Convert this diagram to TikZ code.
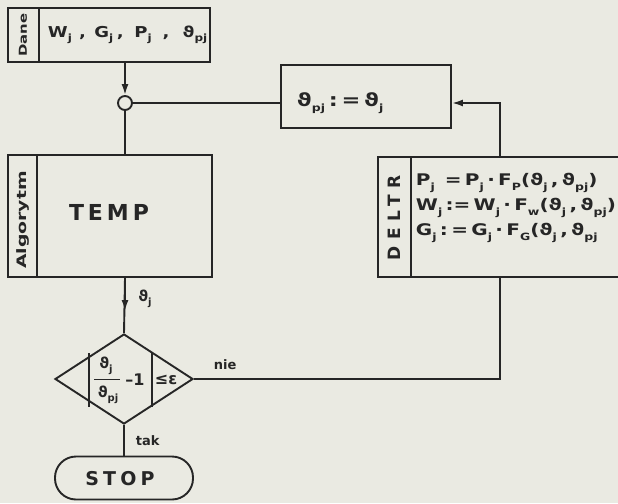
\documentclass[tikz,border=0pt]{standalone}
\usepackage{fontspec}
\setmainfont{DejaVu Sans}
\usetikzlibrary{arrows.meta,shapes.geometric,calc}
\definecolor{paper}{RGB}{234,234,226}
\definecolor{ink}{RGB}{38,38,38}
\newcommand\lsub[1]{\raisebox{-0.55ex}{\fontsize{10}{10}\selectfont #1}}
\newcommand\fs[1]{\fontsize{#1}{#1}\selectfont}
\begin{document}
\begin{tikzpicture}[x=1pt,y=-1pt,line width=1.9pt,
  box/.style={draw=ink,rectangle,inner sep=0pt},
  txt/.style={inner sep=0pt,text=ink},
  arr/.style={-{Latex[length=11pt,width=7pt]}}]
\fill[paper] (0,0) rectangle (618,503);
\useasboundingbox (0,0) rectangle (618,503);
\clip (0,0) rectangle (618,503);
\begin{scope}[draw=ink]
% Dane
\node[box,minimum width=202pt,minimum height=54pt] (dane) at (109,35) {};
\draw ($(dane.north west)+(32,0)$) -- ($(dane.south west)+(32,0)$);
\node[txt,rotate=90,font=\fs{11}\bfseries] (danel) at (23,35) {\scalebox{1.35}[1]{Dane}};
\node[txt,font=\fs{15}\bfseries,anchor=west] (danet) at (47,35) {\scalebox{1.2}[1]{W\lsub{j}\hspace{6pt},\hspace{7pt}G\lsub{j}\hspace{3pt},\hspace{9pt}P\lsub{j}\hspace{9pt},\hspace{11pt}ϑ\lsub{pj}}};
% connector
\node[draw=ink,circle,minimum size=14pt,inner sep=0pt] (conn) at (125,103) {};
\draw[arr] (dane.south -| conn) -- (conn.north);
% Algorytm
\node[box,minimum width=204pt,minimum height=122pt] (alg) at (110,216) {};
\draw ($(alg.north west)+(30,0)$) -- ($(alg.south west)+(30,0)$);
\node[txt,rotate=90,font=\fs{13}\bfseries] (algl) at (23,220) {\scalebox{1.45}[1]{Algorytm}};
\node[txt,font=\fs{22}\bfseries] (temp) at (109,212) {\addfontfeature{LetterSpace=18}TEMP};
\draw (conn.south) -- (conn |- alg.north);
% decision
\node[draw=ink,diamond,aspect=1.53,minimum width=138pt,minimum height=90pt,inner sep=0pt] (dec) at (124,379) {};
\coordinate (mid) at (125,311);
\draw (alg.south -| conn) -- (dec.north);
\draw[arr] (alg.south -| conn) -- (mid);
\node[txt,font=\fs{15}\bfseries] (thj) at (145,299) {ϑ\lsub{j}};
% decision text
\coordinate (lb) at (89,353);
\coordinate (rb) at (152,353);
\draw[line width=1.8pt] (lb) -- (lb |- 0,407);
\draw[line width=1.8pt] (rb) -- (rb |- 0,407);
\node[txt,font=\fs{15}\bfseries] (num) at (106,366) {ϑ\lsub{j}};
\node[txt,font=\fs{15}\bfseries] (den) at (108,395) {ϑ\lsub{pj}};
\draw[line width=1pt] ($(lb)+(5,26)$) -- ($(lb)+(31,26)$);
\node[txt,font=\fs{16}\bfseries] (m1) at (135,380) {\textendash1};
\node[txt,font=\fs{16}\bfseries,anchor=west] (le) at (154,380) {≤ε};
% stop
\node[draw=ink,rounded corners=21pt,minimum width=138pt,minimum height=43pt,inner sep=0pt] (stop) at (124,478) {};
\node[txt,font=\fs{19}\bfseries] (stopt) at (120,479) {\addfontfeature{LetterSpace=22}STOP};
\draw (dec.south) -- (stop.north);
\node[txt,font=\fs{13}\bfseries,anchor=west] (tak) at (135,441) {tak};
\node[txt,font=\fs{13}\bfseries,anchor=west] (nie) at (213,365) {nie};
% assign
\node[box,minimum width=170pt,minimum height=63pt] (asg) at (366,96.5) {};
\node[txt,font=\fs{18}\bfseries,anchor=west] (asgt) at (296,103) {\scalebox{1.25}[1]{ϑ\lsub{pj}\,:\,=\,ϑ\lsub{j}}};
\draw (conn.east) -- (conn.east -| asg.west);
% DELTR
\node[box,minimum width=262pt,minimum height=120pt] (del) at (509,217) {};
\draw ($(del.north west)+(34,0)$) -- ($(del.south west)+(34,0)$);
\node[txt,rotate=90,font=\fs{17}\bfseries] (dell) at (394,218) {\addfontfeature{LetterSpace=40}DELTR};
\node[txt,font=\fs{16}\bfseries,anchor=west,align=left] (delt) at (415,208) {%
\scalebox{1.25}[1]{P\lsub{j}\hspace{8pt}=\,P\lsub{j}\,·\,F\lsub{P}(ϑ\lsub{j}\,,\,ϑ\lsub{pj})}\\[5pt]
\scalebox{1.25}[1]{W\lsub{j}\,:=\,W\lsub{j}\,·\,F\lsub{w}(ϑ\lsub{j}\,,\,ϑ\lsub{pj})}\\[5pt]
\scalebox{1.25}[1]{G\lsub{j}\,:\,=\,G\lsub{j}\,·\,F\lsub{G}(ϑ\lsub{j}\,,\,ϑ\lsub{pj}}};
\coordinate (up) at (500,103);
\draw[arr] (up |- del.north) -- (up) -- (up -| asg.east);
\coordinate (turn) at (500,379);
\draw (dec.east) -- (turn) -- (turn |- del.south);
\end{scope}
\end{tikzpicture}
\end{document}
